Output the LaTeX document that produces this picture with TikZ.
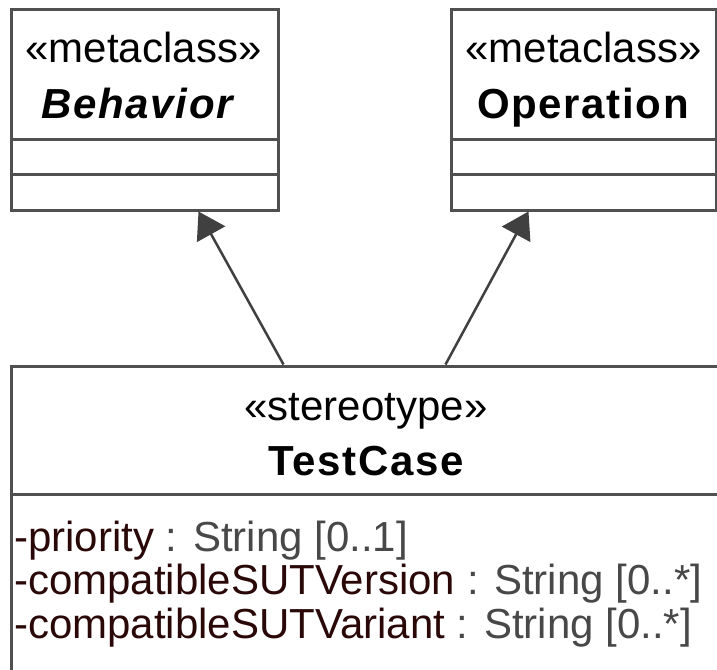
\documentclass[tikz,border=0pt]{standalone}
\usepackage{fontspec}
\setmainfont{Liberation Sans}
\usetikzlibrary{calc,arrows.meta}
\definecolor{boxline}{HTML}{505050}
\definecolor{arrline}{HTML}{404040}
\definecolor{attrname}{HTML}{2A0808}
\definecolor{attrtype}{HTML}{484848}
\tikzset{
  umlbox/.style={draw=boxline, line width=3pt, fill=white, rectangle, inner sep=0pt},
  divider/.style={draw=boxline, line width=3pt},
  lbl/.style={anchor=base, inner sep=0pt, font=\fontsize{42}{44}\selectfont},
  bname/.style={anchor=base, inner sep=0pt, font=\fontsize{42}{44}\selectfont\bfseries\addfontfeature{LetterSpace=4}},
  attr/.style={anchor=base west, inner sep=0pt, font=\fontsize{42}{44}\selectfont},
  gen/.style={draw=arrline, line width=2.5pt, -{Triangle[length=26pt,width=32pt,fill=arrline]}},
}
\newcommand{\attrline}[2]{\textcolor{attrname}{#1}\textcolor{attrtype}{\ : #2}}
\begin{document}
\begin{tikzpicture}[x=1pt,y=-1pt]
\useasboundingbox (0,0) rectangle (717,669);
\clip (0,0) rectangle (717,669);
\fill[white] (0,0) rectangle (717,669);
% Behavior
\node[umlbox, minimum width=267pt, minimum height=200pt] (beh) at (144.5,110) {};
\draw[divider] (11,139) -- (278,139);
\draw[divider] (11,174) -- (278,174);
\node[lbl] (behst) at (143.5,63) {«metaclass»};
\node[bname] (behnm) at (137,118) {\itshape Behavior};
% Operation
\node[umlbox, minimum width=265pt, minimum height=200pt] (op) at (583.5,110) {};
\draw[divider] (451,139) -- (716,139);
\draw[divider] (451,174) -- (716,174);
\node[lbl] (opst) at (583.5,63) {«metaclass»};
\node[bname] (opnm) at (583,118) {Operation};
% TestCase
\node[umlbox, minimum width=716pt, minimum height=316pt] (tc) at (369,524) {};
\draw[divider] (11,494) -- (727,494);
\node[lbl] (tcst) at (366,420) {«stereotype»};
\node[bname] (tcnm) at (366,475) {TestCase};
\node[attr] (a1) at (14,551) {\attrline{-priority}{String [0..1]}};
\node[attr] (a2) at (14,594) {\attrline{-compatibleSUTVersion}{String [0..*]}};
\node[attr] (a3) at (14,638) {\attrline{-compatibleSUTVariant}{String [0..*]}};
% generalizations
\draw[gen] ($(tc.north west)+(274,0)$) -- ($(beh.south west)+(189,0)$);
\draw[gen] ($(tc.north west)+(436,0)$) -- ($(op.south west)+(79,0)$);
\end{tikzpicture}
\end{document}
